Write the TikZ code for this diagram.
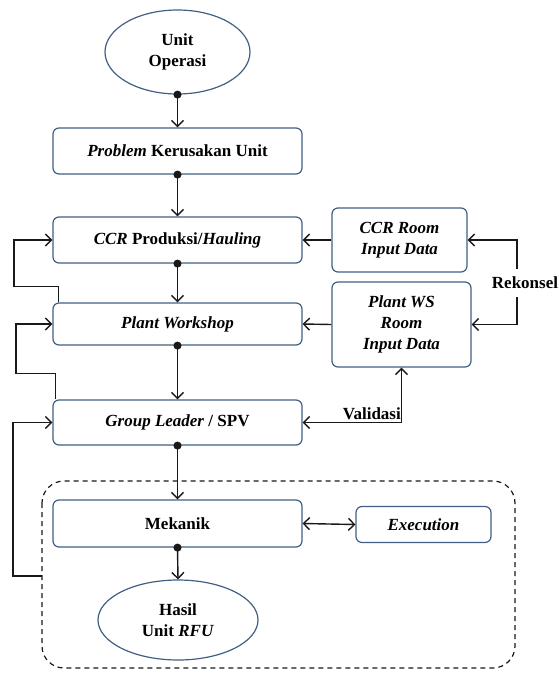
\documentclass[tikz,border=0pt]{standalone}
\usepackage{fontspec}
\setmainfont{Liberation Serif}
\usetikzlibrary{arrows.meta,shapes.geometric}
\definecolor{boxblue}{RGB}{65,95,130}
\definecolor{lineblk}{RGB}{25,25,25}
\begin{document}
\begin{tikzpicture}[x=1pt,y=-1pt,
  lbl/.style={font=\bfseries\fontsize{17}{21}\selectfont, align=center},
  box/.style={lbl, draw=boxblue, line width=1.2pt, rounded corners=6pt, inner sep=0pt},
  mainbox/.style={box, minimum width=249pt},
  oval/.style={lbl, ellipse, draw=boxblue, line width=1.2pt, inner sep=0pt},
  conn/.style={line width=1.4pt, draw=lineblk, -{Straight Barb[length=6pt,width=12pt]}},
  dconn/.style={conn, {Circle[length=8pt]}-{Straight Barb[length=6pt,width=12pt]}, shorten <=-4pt},
  bconn/.style={conn, {Straight Barb[length=6pt,width=12pt]}-{Straight Barb[length=6pt,width=12pt]}},
  plain/.style={lbl, inner sep=2pt}
]
\useasboundingbox (0,0) rectangle (558,673);

% dashed group
\draw[line width=1.2pt, dash pattern=on 5pt off 4pt, rounded corners=22pt, draw=lineblk]
  (42,481) rectangle (515,668);
\coordinate (grpw) at (42,576);

\node[oval, minimum width=145pt, minimum height=84pt] (uo) at (177.5,52) {Unit\\Operasi};
\node[mainbox, minimum height=46pt] (prob) at (177.5,151) {\textit{Problem} Kerusakan Unit};
\node[mainbox, minimum height=46pt] (ccr) at (177.5,240) {\textit{CCR} Produksi/\textit{Hauling}};
\node[mainbox, minimum height=42pt] (pw) at (177.5,324) {\textit{Plant Workshop}};
\node[mainbox, minimum height=45pt] (gl) at (177.5,422.5) {\textit{Group Leader} / SPV};
\node[mainbox, minimum height=47pt] (mek) at (177.5,523.5) {Mekanik};
\node[oval, minimum width=160pt, minimum height=80pt] (hasil) at (178,620) {Hasil\\Unit \textit{RFU}};
\node[box, minimum width=135pt, minimum height=36pt] (exec) at (423.5,524.5) {\textit{Execution}};
\node[box, minimum width=135pt, minimum height=64pt] (ccrr) at (399.5,240) {\textit{CCR Room}\\\textit{Input Data}};
\node[box, minimum width=139pt, minimum height=85pt] (pwsr) at (401.5,324.5) {\textit{Plant WS}\\\textit{Room}\\\textit{Input Data}};
\node[plain, inner sep=0pt, minimum height=28pt] (rek) at (525,283) {Rekonsel};

% main flow
\draw[dconn] (uo.south) -- (prob.north);
\draw[dconn] (prob.south) -- (ccr.north);
\draw[dconn] (ccr.south) -- (pw.north);
\draw[dconn] (pw.south) -- (gl.north);
\draw[dconn] (gl.south) -- (mek.north);
\draw[dconn] (mek.south) -- (hasil.north);
\draw[bconn] (mek.east) -- (exec.west);

% feedback loops on the left
\draw[conn] ([xshift=6pt]pw.north west) -- ++(0,-16) -| (14,240) -- (ccr.west);
\draw[conn] ([xshift=3pt]gl.north west) -- ++(0,-26) -| (16,324) -- (pw.west);
\draw[conn] (grpw) -- (13,576) -- (13,422.5) -- (gl.west);

% input data
\draw[conn] (ccrr.west) -- (ccr.east);
\draw[conn] (pwsr.west) -- (pw.east);

% Rekonsel
\draw[conn] (rek.north -| 517,0) |- (ccrr.east);
\draw[conn] (rek.south -| 517,0) |- (pwsr.east);

% Validasi
\draw[bconn] (gl.east) -| node[plain, pos=0.35, above=0pt] {Validasi} (pwsr.south);
\end{tikzpicture}
\end{document}
